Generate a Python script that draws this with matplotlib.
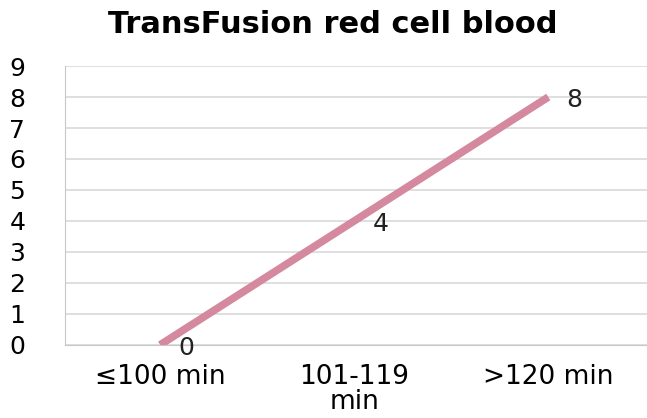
import numpy as np
import matplotlib.pyplot as plt

plt.rcParams['font.family'] = ['DejaVu Sans']

categories = ["≤100 min", "101-119\nmin", ">120 min"]
values = [0, 4, 8]

fig = plt.figure(figsize=(6.47, 4.18), dpi=100)
ax = fig.add_axes([0.1005, 0.175, 0.9, 0.667])

x = np.arange(len(categories))
ax.plot(x, values, color="#D4899F", linewidth=5.5, solid_capstyle="butt")

for xi, v in zip(x, values):
    ax.annotate(str(v), (xi, v), xytext=(13, -2), textcoords="offset points",
                ha="left", va="center", fontsize=18, color="#222222")

ax.set_xlim(-0.49, 2.51)
ax.set_ylim(0, 9)
ax.set_yticks(range(0, 10))
ax.set_xticks(x)
ax.set_xticklabels(categories, fontsize=19, linespacing=0.95)
ax.tick_params(axis="y", labelsize=18, length=0, pad=40)
ax.tick_params(axis="x", length=0, pad=14)
for lbl in ax.get_yticklabels():
    lbl.set_horizontalalignment("left")

ax.grid(axis="y", color="#D9D9D9", linewidth=1.2)
ax.set_axisbelow(True)
for s in ["top", "right"]:
    ax.spines[s].set_visible(False)
ax.spines["left"].set_color("#C8C8C8")
ax.spines["bottom"].set_color("#C8C8C8")

fig.suptitle("TransFusion red cell blood", fontsize=22, fontweight="bold",
             x=0.515, y=0.975, va="top")

fig.savefig("out.png", dpi=100)
